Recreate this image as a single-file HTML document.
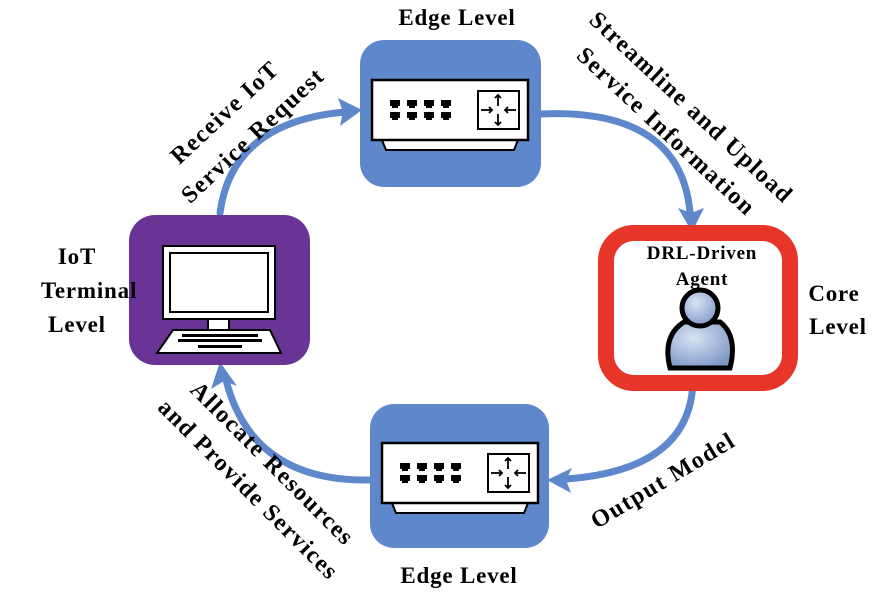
<!DOCTYPE html>
<html><head><meta charset="utf-8"><style>
html,body{margin:0;padding:0;background:#fff;}
svg text{font-family:"Liberation Serif",serif;font-weight:bold;fill:#000;}
</style></head><body>
<svg width="887" height="601" viewBox="0 0 887 601" xmlns="http://www.w3.org/2000/svg">
<defs>
<g id="sw">
 <polygon points="10,60 146,60 142,70 14,70" fill="#fff" stroke="#000" stroke-width="2"/>
 <rect x="0" y="0" width="156" height="60" fill="#fff" stroke="#000" stroke-width="2.5"/>
 <g fill="#000">
  <rect x="18" y="20" width="10" height="6"/><rect x="20" y="26" width="6" height="2"/>
  <rect x="35" y="20" width="10" height="6"/><rect x="37" y="26" width="6" height="2"/>
  <rect x="52" y="20" width="10" height="6"/><rect x="54" y="26" width="6" height="2"/>
  <rect x="69" y="20" width="10" height="6"/><rect x="71" y="26" width="6" height="2"/>
  <rect x="18" y="32" width="10" height="6"/><rect x="20" y="38" width="6" height="2"/>
  <rect x="35" y="32" width="10" height="6"/><rect x="37" y="38" width="6" height="2"/>
  <rect x="52" y="32" width="10" height="6"/><rect x="54" y="38" width="6" height="2"/>
  <rect x="69" y="32" width="10" height="6"/><rect x="71" y="38" width="6" height="2"/>
 </g>
 <rect x="106" y="11" width="41" height="38" fill="#fff" stroke="#000" stroke-width="2"/>
 <g stroke="#000" stroke-width="1.8" fill="none">
  <line x1="126" y1="15" x2="126" y2="26"/><polyline points="123,18 126,15 129,18"/>
  <line x1="126" y1="34" x2="126" y2="45"/><polyline points="123,42 126,45 129,42"/>
  <line x1="109" y1="30" x2="120" y2="30"/><polyline points="117,27 120,30 117,33"/>
  <line x1="133" y1="30" x2="144" y2="30"/><polyline points="136,27 133,30 136,33"/>
 </g>
</g>
<radialGradient id="pg" cx="40%" cy="35%" r="70%"><stop offset="0" stop-color="#d8e4f4"/><stop offset="1" stop-color="#7d97c4"/></radialGradient>
</defs>

<g stroke="#5f88cc" stroke-width="7" fill="none" stroke-linecap="round">
 <path d="M220,213 Q232,122 345,112"/>
 <path d="M541,114 Q680,108 690,212"/>
 <path d="M693,382 Q690,470 566,479"/>
 <path d="M370,480 Q252,482 226,380"/>
</g>
<g fill="#5f88cc">
 <polygon points="362,110 338,98 343,112 340,126"/>
 <polygon points="692,232 678,208 691,213 704,208"/>
 <polygon points="547,480 572,468 566,480 571,493"/>
 <polygon points="220,362 211,389 224,381 237,386"/>
</g>

<rect x="360" y="40" width="181" height="147" rx="24" fill="#5f88cc"/>
<use href="#sw" x="372" y="80"/>
<rect x="370" y="404" width="179" height="144" rx="24" fill="#5f88cc"/>
<use href="#sw" x="382" y="443"/>

<rect x="129" y="215" width="181" height="150" rx="26" fill="#6a3496"/>
<rect x="163" y="246" width="112" height="73" fill="#fff" stroke="#000" stroke-width="2"/>
<rect x="170" y="253" width="98" height="59" fill="#fff" stroke="#000" stroke-width="2"/>
<rect x="208" y="319" width="21" height="11" fill="#fff" stroke="#000" stroke-width="2"/>
<polygon points="173,330 270,330 281,353 157,353" fill="#fff" stroke="#000" stroke-width="2"/>
<g fill="#000">
 <rect x="182" y="334" width="76" height="3"/>
 <rect x="178" y="339" width="84" height="3"/>
 <rect x="198" y="345" width="44" height="3"/>
</g>

<rect x="606" y="233" width="184" height="150" rx="28" fill="#fff" stroke="#e8352a" stroke-width="16"/>
<text x="702" y="259" font-size="19" letter-spacing="0.8" text-anchor="middle">DRL-Driven</text>
<text x="702" y="285" font-size="19" letter-spacing="0.8" text-anchor="middle">Agent</text>
<path d="M670,368 Q662,336 684,322 L720,322 Q738,336 730,368 Z" fill="url(#pg)" stroke="#000" stroke-width="5"/>
<circle cx="700" cy="308" r="18" fill="url(#pg)" stroke="#000" stroke-width="5"/>

<g font-size="23" letter-spacing="0.8">
<text x="457" y="25" text-anchor="middle">Edge Level</text>
<text x="459" y="583" text-anchor="middle">Edge Level</text>
<text x="77" y="264" text-anchor="middle">IoT</text>
<text x="89" y="298" text-anchor="middle">Terminal</text>
<text x="77" y="332" text-anchor="middle">Level</text>
<text x="834" y="301" text-anchor="middle">Core</text>
<text x="838" y="334" text-anchor="middle">Level</text>
</g>

<g font-size="24" letter-spacing="1.5" text-anchor="middle">
 <text transform="translate(230,118) rotate(-43)">Receive IoT</text>
 <text transform="translate(258,141) rotate(-43)">Service Request</text>
 <text transform="translate(686,113) rotate(43)">Streamline and Upload</text>
 <text transform="translate(661,137) rotate(43)">Service Information</text>
 <text transform="translate(667,487) rotate(-31)">Output Model</text>
 <text transform="translate(267,469) rotate(45)">Allocate Resources</text>
 <text transform="translate(243,495) rotate(45)">and Provide Services</text>
</g>
</svg>
</body></html>
